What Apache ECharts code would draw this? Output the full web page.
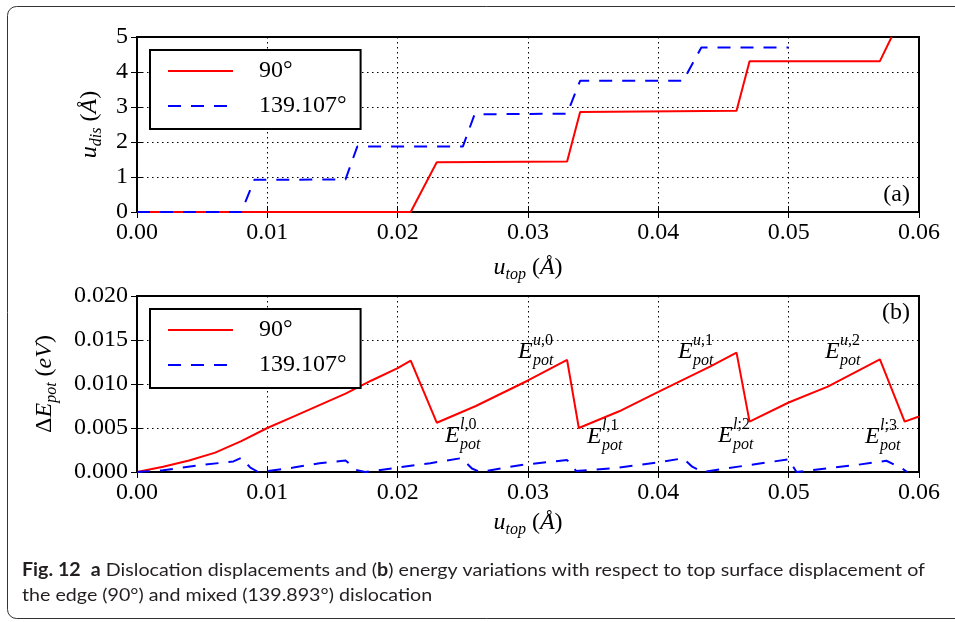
<!DOCTYPE html>
<html>
<head>
<meta charset="utf-8">
<title>Dislocation displacement and energy variation</title>
<script src="https://cdn.jsdelivr.net/npm/echarts@6/dist/echarts.min.js"></script>
<style>
  html, body { margin: 0; padding: 0; background: #fff; }
  #chart { width: 955px; height: 622px; }
</style>
</head>
<body>
<div id="chart"></div>
<script>
// ---- data ------------------------------------------------------------
const seriesNames = ['90°', '139.107°'];
const xTicks = [0, 0.01, 0.02, 0.03, 0.04, 0.05, 0.06];

// (a) dislocation displacement u_dis (Å) vs top displacement u_top (Å)
const udisEdge = [[0, 0], [0.021, 0], [0.023, 1.42], [0.033, 1.44], [0.034, 2.86],
  [0.046, 2.89], [0.047, 4.31], [0.057, 4.31], [0.0579, 5.0]];
const udisMixed = [[0, 0], [0.008, 0], [0.009, 0.92], [0.016, 0.93], [0.0169, 1.87],
  [0.025, 1.87], [0.0259, 2.79], [0.033, 2.81], [0.034, 3.75], [0.0419, 3.75],
  [0.0433, 4.70], [0.05, 4.70]];

// (b) potential energy change ΔE_pot (eV) vs u_top (Å)
const dEpotEdge = [[0, 0], [0.002, 0.0006], [0.004, 0.0013], [0.006, 0.0022], [0.008, 0.0035],
  [0.01, 0.0050], [0.012, 0.0063], [0.014, 0.0076], [0.016, 0.0089], [0.018, 0.0104],
  [0.02, 0.0118], [0.021, 0.01265], [0.023, 0.0056], [0.026, 0.0075], [0.03, 0.0104],
  [0.033, 0.01273], [0.0339, 0.0050], [0.037, 0.0069], [0.04, 0.0091], [0.044, 0.0120],
  [0.046, 0.01356], [0.047, 0.00572], [0.05, 0.0079], [0.053, 0.0097], [0.057, 0.0128],
  [0.0589, 0.00572], [0.06, 0.0063]];
const dEpotMixed = [[0, 0], [0.002, 0.0002], [0.005, 0.0008], [0.0074, 0.0012], [0.008, 0.0016],
  [0.0087, 0.0005], [0.0093, 0], [0.01, 0.0001], [0.012, 0.0005], [0.014, 0.001],
  [0.016, 0.0013], [0.0169, 0.0002], [0.0175, 0], [0.02, 0.0005], [0.0225, 0.001],
  [0.0249, 0.00158], [0.0257, 0.0004], [0.0263, 0], [0.0295, 0.0008], [0.033, 0.00136],
  [0.0337, 0.0001], [0.037, 0.0005], [0.04, 0.0011], [0.0419, 0.00156], [0.0426, 0.0006],
  [0.0434, 0], [0.047, 0.0008], [0.05, 0.00144], [0.0506, 0], [0.0552, 0.0008],
  [0.0575, 0.00128], [0.0587, 0.0004], [0.0591, 0]];

// energy extrema labels: [superscript, u_top, ΔE_pot] (text anchor in data space)
const extremaLabels = [
  ['l,0', 0.02363, 0.00409],
  ['u,0', 0.02923, 0.01364],
  ['l,1', 0.03453, 0.00398],
  ['u,1', 0.04151, 0.01364],
  ['l;2', 0.04458, 0.00409],
  ['u,2', 0.05279, 0.01364],
  ['l;3', 0.05586, 0.00398]
];

const captionLine1 = [
  ['Fig. 12', true], ['  ', false], ['a', true], [' Dislocation displacements and (', false],
  ['b', true], [') energy variations with respect to top surface displacement of', false]
];
const captionLine2 = 'the edge (90°) and mixed (139.893°) dislocation';

// ---- styling helpers ---------------------------------------------------
const SERIF = "'Liberation Serif', 'DejaVu Serif', serif";
const SANS = "Lato, 'Noto Sans', sans-serif";
const CAP_SIZE = 18;
const RED = '#ff0000', BLUE = '#0000ff';

const mathRich = {
  n: { fontFamily: SERIF, fontSize: 24, lineHeight: 30, color: '#000' },
  i: { fontFamily: SERIF, fontSize: 24, lineHeight: 30, fontStyle: 'italic', color: '#000' },
  s: { fontFamily: SERIF, fontSize: 16, lineHeight: 16, fontStyle: 'italic', color: '#000', verticalAlign: 'bottom' }
};

function xAxisFor(grid, pos, name, gap) {
  const main = pos === 'bottom';
  return {
    type: 'value', gridIndex: grid, position: pos, min: 0, max: 0.06, interval: 0.01,
    name: main ? name : '', nameLocation: 'middle', nameGap: gap,
    nameTextStyle: { rich: mathRich },
    axisLine: { show: false },
    axisTick: { show: true, inside: true, length: 6, lineStyle: { color: '#000', width: 1 } },
    axisLabel: {
      show: main, margin: 9, color: '#000', fontFamily: SERIF, fontSize: 24,
      formatter: v => v.toFixed(2)
    },
    splitLine: { show: main, lineStyle: { color: '#000', width: 1, type: [1.5, 3.5] } }
  };
}

function yAxisFor(grid, pos, max, interval, digits, name, gap) {
  const main = pos === 'left';
  return {
    type: 'value', gridIndex: grid, position: pos, min: 0, max: max, interval: interval,
    name: main ? name : '', nameLocation: 'middle', nameGap: gap,
    nameTextStyle: { rich: mathRich },
    axisLine: { show: false },
    axisTick: { show: true, inside: true, length: 6, lineStyle: { color: '#000', width: 1 } },
    axisLabel: {
      show: main, margin: 9, color: '#000', fontFamily: SERIF, fontSize: 24,
      formatter: v => v.toFixed(digits)
    },
    splitLine: { show: main, lineStyle: { color: '#000', width: 1, type: [1.5, 3.5] } }
  };
}

function legendAt(top) {
  return {
    data: seriesNames, orient: 'vertical', left: 150, top: top,
    itemWidth: 65, itemHeight: 20, itemGap: 11,
    padding: [9, 14, 11, 17],
    borderColor: '#000', borderWidth: 2, borderRadius: 0, backgroundColor: '#fff',
    selectedMode: false,
    itemStyle: { opacity: 0 },
    textStyle: { fontFamily: SERIF, fontSize: 24, color: '#000', padding: [0, 0, 0, 21] }
  };
}

function line(name, data, xi, yi, color, dashed) {
  return {
    name: name, type: 'line', xAxisIndex: xi, yAxisIndex: yi, data: data,
    symbol: 'none', smooth: false, clip: true, animation: false,
    lineStyle: { color: color, width: 2, type: dashed ? [13, 10] : 'solid' },
    itemStyle: { color: color }
  };
}

const uTopName = '{i|u}{s|top}{n| (}{i|Å}{n|)}';

const chart = echarts.init(document.getElementById('chart'), null, { renderer: 'canvas' });

chart.setOption({
  backgroundColor: '#fff',
  animation: false,
  grid: [
    { left: 137, top: 37, width: 782, height: 175, show: true, borderColor: '#000', borderWidth: 2, backgroundColor: '#fff' },
    { left: 137, top: 296, width: 782, height: 176, show: true, borderColor: '#000', borderWidth: 2, backgroundColor: '#fff' }
  ],
  xAxis: [
    xAxisFor(0, 'bottom', uTopName, 41),
    xAxisFor(1, 'bottom', uTopName, 36),
    xAxisFor(0, 'top'),
    xAxisFor(1, 'top')
  ],
  yAxis: [
    yAxisFor(0, 'left', 5, 1, 0, '{i|u}{s|dis}{n| (}{i|Å}{n|)}', 30),
    yAxisFor(1, 'left', 0.02, 0.005, 3, '{n|Δ}{i|E}{s|pot}{n| (}{i|eV}{n|)}', 77),
    yAxisFor(0, 'right', 5, 1, 0),
    yAxisFor(1, 'right', 0.02, 0.005, 3)
  ],
  legend: [legendAt(50), legendAt(309)],
  series: [
    line(seriesNames[0], udisEdge, 0, 0, RED, false),
    line(seriesNames[1], udisMixed, 0, 0, BLUE, true),
    line(seriesNames[0], dEpotEdge, 1, 1, RED, false),
    line(seriesNames[1], dEpotMixed, 1, 1, BLUE, true)
  ]
});

// ---- annotations, panel tags, caption and frame ---------------------------
const ctx = document.createElement('canvas').getContext('2d');
function textWidth(t, bold) {
  ctx.font = (bold ? 'bold ' : '') + CAP_SIZE + 'px ' + SANS;
  return ctx.measureText(t).width;
}
const capTarget = 903;
const capNatural = captionLine1.reduce((w, p) => w + textWidth(p[0], p[1]), 0);
const capScale = capTarget / capNatural;
const capText1 = captionLine1.map(p => p[1] ? '{b|' + p[0] + '}' : p[0]).join('');

const graphics = [];

// rounded page frame
graphics.push({
  type: 'rect', z: 0, silent: true,
  shape: { x: 7.5, y: 6.5, width: 970, height: 612, r: 9 },
  style: { fill: 'none', stroke: '#333', lineWidth: 1 }
});

// panel tags
graphics.push({
  type: 'text', z: 10, x: 910, y: 195,
  style: { text: '(a)', font: '24px ' + SERIF, fill: '#000', align: 'right', verticalAlign: 'middle' }
});
graphics.push({
  type: 'text', z: 10, x: 910, y: 313,
  style: { text: '(b)', font: '24px ' + SERIF, fill: '#000', align: 'right', verticalAlign: 'middle' }
});

// E_pot extrema labels
extremaLabels.forEach(([sup, ux, ey]) => {
  const p = chart.convertToPixel({ seriesIndex: 2 }, [ux, ey]);
  const supParts = sup.split(/([,;])/);
  graphics.push({
    type: 'group', x: p[0], y: p[1], z: 10,
    children: [
      { type: 'text', x: 0, y: 0, style: { text: 'E', font: 'italic 24px ' + SERIF, fill: '#000', align: 'left', verticalAlign: 'middle' } },
      { type: 'text', x: 15, y: -11, style: {
          text: '{i|' + supParts[0] + '}{n|' + supParts[1] + supParts[2] + '}',
          align: 'left', verticalAlign: 'middle',
          rich: {
            i: { fontFamily: SERIF, fontSize: 16, fontStyle: 'italic', color: '#000' },
            n: { fontFamily: SERIF, fontSize: 16, color: '#000' }
          }
        } },
      { type: 'text', x: 15, y: 9, style: { text: 'pot', font: 'italic 16px ' + SERIF, fill: '#000', align: 'left', verticalAlign: 'middle' } }
    ]
  });
});

// caption
graphics.push({
  type: 'text', z: 10, x: 22, y: 570, scaleX: capScale,
  style: {
    text: capText1, font: CAP_SIZE + 'px ' + SANS, fill: '#231f20', align: 'left', verticalAlign: 'middle',
    rich: { b: { fontFamily: SANS, fontSize: CAP_SIZE, fontWeight: 'bold', color: '#231f20' } }
  }
});
graphics.push({
  type: 'text', z: 10, x: 22, y: 595, scaleX: capScale,
  style: { text: captionLine2, font: CAP_SIZE + 'px ' + SANS, fill: '#231f20', align: 'left', verticalAlign: 'middle' }
});

chart.setOption({ graphic: graphics });
</script>
</body>
</html>
